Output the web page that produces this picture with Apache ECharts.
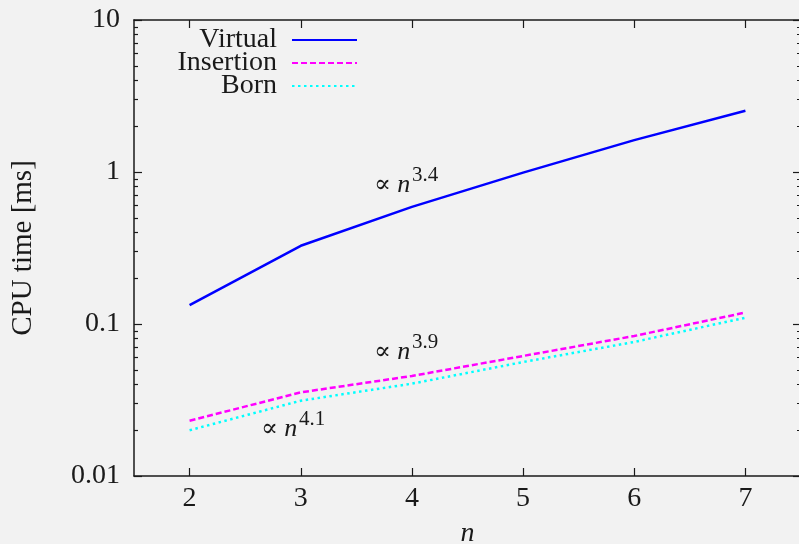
<!DOCTYPE html>
<html>
<head>
<meta charset="utf-8">
<script src="https://cdn.jsdelivr.net/npm/echarts@6/dist/echarts.min.js"></script>
<style>
html, body { margin: 0; padding: 0; background: #f2f2f2; }
#chart { width: 799px; height: 544px; }
</style>
</head>
<body>
<div id="chart"></div>
<script>
// values
const nValues = [2, 3, 4, 5, 6, 7]
const virtualTimes = [0.133, 0.327, 0.59, 0.99, 1.62, 2.53]
const insertionTimes = [0.0231, 0.0355, 0.0455, 0.0616, 0.0834, 0.119]
const bornTimes = [0.02, 0.0313, 0.0405, 0.0562, 0.0762, 0.11]

const xTicks = [2, 3, 4, 5, 6, 7]
const yTicks = [0.01, 0.1, 1, 10]
const yTickLabels = ['0.01', '0.1', '1', '10']
const yMinorTicks = [
	0.02, 0.03, 0.04, 0.05, 0.06, 0.07, 0.08, 0.09,
	0.2, 0.3, 0.4, 0.5, 0.6, 0.7, 0.8, 0.9,
	2, 3, 4, 5, 6, 7, 8, 9,
]
const fitNotes = [
	{ x: 374, y: 193, exp: '3.4' },
	{ x: 374, y: 360, exp: '3.9' },
	{ x: 261, y: 437, exp: '4.1' },
]

const serif = 'Liberation Serif, DejaVu Serif, serif'
const ink = '#1a1a1a'

const pairs = (ys) => nValues.map((n, i) => [n, ys[i]])

// one y axis per tick kind, so major and minor ticks get their own length
function yAxisFor(pos, values, len, main) {
	return {
		type: 'log',
		position: pos,
		min: 0.01,
		max: 10,
		axisLine: { show: main, lineStyle: { color: ink, width: 1.5 } },
		axisTick: { show: true, inside: true, length: len, customValues: values, lineStyle: { color: ink, width: 1.2 } },
		axisLabel: main && pos == 'left'
			? {
				show: true,
				customValues: yTicks,
				margin: 14,
				color: ink,
				fontSize: 28,
				fontFamily: serif,
				showMinLabel: true,
				showMaxLabel: true,
				formatter: (v) => {
					let k = yTicks.findIndex((t) => Math.abs(Math.log10(t) - Math.log10(v)) < 1e-6)
					return k >= 0 ? yTickLabels[k] : ''
				},
			}
			: { show: false },
		splitLine: { show: false },
		minorTick: { show: false },
	}
}

function xAxisFor(pos, main) {
	return {
		type: 'value',
		position: pos,
		min: 1.5,
		max: 7.5,
		name: main ? 'n' : '',
		nameLocation: 'middle',
		nameGap: 44,
		nameTextStyle: { fontSize: 28, fontStyle: 'italic', fontFamily: serif, color: ink },
		axisLine: { show: true, onZero: false, lineStyle: { color: ink, width: 1.5 } },
		axisTick: { show: true, inside: true, length: 8, customValues: xTicks, lineStyle: { color: ink, width: 1.2 } },
		axisLabel: main
			? { show: true, customValues: xTicks, margin: 9, color: ink, fontSize: 28, fontFamily: serif }
			: { show: false },
		splitLine: { show: false },
	}
}

const yAxes = [
	yAxisFor('left', yTicks, 8, true),
	yAxisFor('left', yMinorTicks, 4, false),
	yAxisFor('right', yTicks, 8, true),
	yAxisFor('right', yMinorTicks, 4, false),
]
yAxes[0].name = 'CPU time [ms]'
yAxes[0].nameLocation = 'middle'
yAxes[0].nameGap = 96
yAxes[0].nameTextStyle = { fontSize: 29, fontFamily: serif, color: ink }

const graphics = []
fitNotes.forEach((f) => {
	graphics.push({
		type: 'text',
		x: f.x,
		y: f.y - 8,
		style: {
			text: '∝ {i|n}',
			font: '25px ' + serif,
			fill: ink,
			verticalAlign: 'middle',
			rich: { i: { fontStyle: 'italic', fontSize: 26, fontFamily: serif, fill: ink } },
		},
	})
	graphics.push({
		type: 'text',
		x: f.x + 38,
		y: f.y - 18,
		style: { text: f.exp, font: '21px ' + serif, fill: ink, verticalAlign: 'middle' },
	})
})

const chart = echarts.init(document.getElementById('chart'))
chart.setOption({
	backgroundColor: '#f2f2f2',
	animation: false,
	grid: { left: 134, top: 20, width: 667, height: 456, outerBoundsMode: 'none' },
	legend: {
		orient: 'vertical',
		align: 'right',
		right: 441,
		top: 26,
		padding: 0,
		itemWidth: 65,
		itemHeight: 14,
		itemGap: -5,
		itemStyle: { opacity: 0 },
		textStyle: { fontSize: 28, fontFamily: serif, color: ink, padding: [0, 10, 0, 0] },
		data: ['Virtual', 'Insertion', 'Born'],
	},
	xAxis: [xAxisFor('bottom', true), xAxisFor('top', false)],
	yAxis: yAxes,
	graphic: graphics,
	series: [
		{
			name: 'Virtual',
			type: 'line',
			data: pairs(virtualTimes),
			symbol: 'none',
			color: '#0000ff',
			lineStyle: { color: '#0000ff', width: 2.5 },
		},
		{
			name: 'Insertion',
			type: 'line',
			data: pairs(insertionTimes),
			symbol: 'none',
			color: '#ff00ff',
			lineStyle: { color: '#ff00ff', width: 2.5, type: [6, 3] },
		},
		{
			name: 'Born',
			type: 'line',
			data: pairs(bornTimes),
			symbol: 'none',
			color: '#00ffff',
			lineStyle: { color: '#00ffff', width: 2.5, type: [2.5, 3.5] },
		},
	],
})
</script>
</body>
</html>
